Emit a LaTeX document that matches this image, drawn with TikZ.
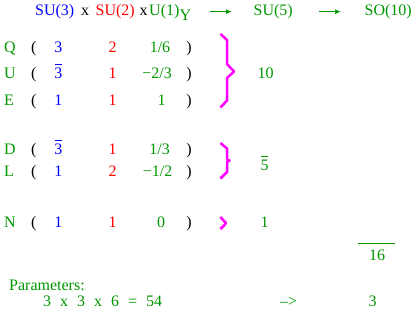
\documentclass[tikz,border=0pt]{standalone}
\usepackage{fontspec}
\setmainfont{Liberation Serif}
\usepackage{xcolor}
\usepackage{tikz}
\usetikzlibrary{arrows.meta}

\definecolor{hypgreen}{RGB}{0,150,0}
\definecolor{repblue}{RGB}{0,0,255}
\definecolor{repred}{RGB}{255,0,0}
\definecolor{bracemag}{RGB}{255,0,255}

\newcommand{\conj}[1]{\setbox0\hbox{#1}\rlap{\hspace{0.5pt}\raisebox{\dimexpr\ht0+3pt\relax}{\rule{\dimexpr\wd0-1pt\relax}{0.8pt}}}\box0}
\newcommand{\pgap}{\hspace{9pt}}

\begin{document}
\begin{tikzpicture}[x=1pt,y=-1pt,
    every node/.style={inner sep=0pt,font=\fontsize{16}{19}\selectfont},
    grp/.style={anchor=base west},
    lbl/.style={anchor=base west,text=hypgreen},
    par/.style={anchor=base,text=black},
    rthree/.style={anchor=base,text=repblue},
    rtwo/.style={anchor=base,text=repred},
    hyp/.style={anchor=base,text=hypgreen},
    maparrow/.style={hypgreen,line width=1.3pt,-{Latex[length=6pt,width=5pt]}},
    brace/.style={bracemag,line width=2.5pt,line join=round}]

    \useasboundingbox (0,0) rectangle (415,308);

    % groups
    \node[grp,text=repblue]  (su3) at (35,15.5)  {SU(3)};
    \node[grp,text=black]    (x1)  at (81,15.5)  {x};
    \node[grp,text=repred]   (su2) at (95.5,15.5) {SU(2)};
    \node[grp,text=black]    (x2)  at (139.5,15.5) {x};
    \node[grp,text=hypgreen] (u1)  at (149,15.5) {U(1)};
    \node[grp,text=hypgreen] (ysub) at (179.5,20.5) {Y};
    \node[grp,text=hypgreen] (su5) at (253.5,15.5) {SU(5)};
    \node[grp,text=hypgreen] (so10) at (364.5,15.5) {SO(10)};

    \draw[maparrow,shorten <=30pt,shorten >=21.5pt] (u1.east) -- (su5.west);
    \draw[maparrow,shorten <=25.5pt,shorten >=23.5pt] (su5.east) -- (so10.west);

    % Q, U, E
    \node[lbl] (q) at (4,52.5) {Q};
    \node[par] (qo) at (33.8,52.5) {(};
    \node[rthree] (q3) at (58.3,52.5) {3};
    \node[rtwo] (q2) at (112.7,52.5) {2};
    \node[hyp] (qy) at (160,52.5) {1/6};
    \node[par] (qc) at (189,52.5) {)};

    \node[lbl] (u) at (4,78) {U};
    \node[par] (uo) at (33.8,78) {(};
    \node[rthree] (u3) at (58.3,78) {\conj{3}};
    \node[rtwo] (u2) at (112.7,78) {1};
    \node[hyp] (uy) at (157.2,78) {−2/3};
    \node[par] (uc) at (189,78) {)};

    \node[lbl] (e) at (4,105.5) {E};
    \node[par] (eo) at (33.8,105.5) {(};
    \node[rthree] (e3) at (58.3,105.5) {1};
    \node[rtwo] (e2) at (112.7,105.5) {1};
    \node[hyp] (ey) at (161.5,105.5) {1};
    \node[par] (ec) at (189,105.5) {)};

    % D, L
    \node[lbl] (d) at (4,154) {D};
    \node[par] (do) at (33.8,154) {(};
    \node[rthree] (d3) at (58.3,154) {\conj{3}};
    \node[rtwo] (d2) at (112.7,154) {1};
    \node[hyp] (dy) at (159.7,154) {1/3};
    \node[par] (dc) at (189,154) {)};

    \node[lbl] (l) at (4,176.5) {L};
    \node[par] (lo) at (33.8,176.5) {(};
    \node[rthree] (l3) at (58.3,176.5) {1};
    \node[rtwo] (l2) at (112.7,176.5) {2};
    \node[hyp] (ly) at (157.7,176.5) {−1/2};
    \node[par] (lc) at (189,176.5) {)};

    % N
    \node[lbl] (n) at (4,227) {N};
    \node[par] (no) at (33.8,227) {(};
    \node[rthree] (n3) at (58.3,227) {1};
    \node[rtwo] (n2) at (112.7,227) {1};
    \node[hyp] (ny) at (161,227) {0};
    \node[par] (nc) at (189,227) {)};

    % braces
    \draw[brace] (220.5,34) -- (227,40) -- (227,64) -- (234,71.5) -- (227,78) -- (227,100.5) -- (220.5,107.5);
    \draw[brace] (220.5,143) -- (227,148.5) -- (227,159.5) -- (229.5,160.5) -- (227,162) -- (227,172) -- (220.5,178.5);
    \draw[brace] (220.5,217) -- (224,221) -- (226,223) -- (224,225.5) -- (220.5,229);

    \node[hyp] (ten) at (265.5,78) {10};
    \node[hyp] (five) at (264.5,170) {\conj{5}};
    \node[hyp] (one) at (264.5,227) {1};

    % total
    \draw[hypgreen,line width=1.3pt] (358,243.3) -- (395,243.3);
    \node[hyp] (sixteen) at (377,260.7) {16};

    \node[lbl] (params) at (9,290) {Parameters:};
    \node[lbl] (count) at (43,306) {3\pgap x\pgap 3\pgap x\pgap 6\pgap =\pgap 54};
    \node[lbl] (to) at (280,306) {\textendash>};
    \node[hyp] (three) at (372.5,306) {3};
\end{tikzpicture}
\end{document}
